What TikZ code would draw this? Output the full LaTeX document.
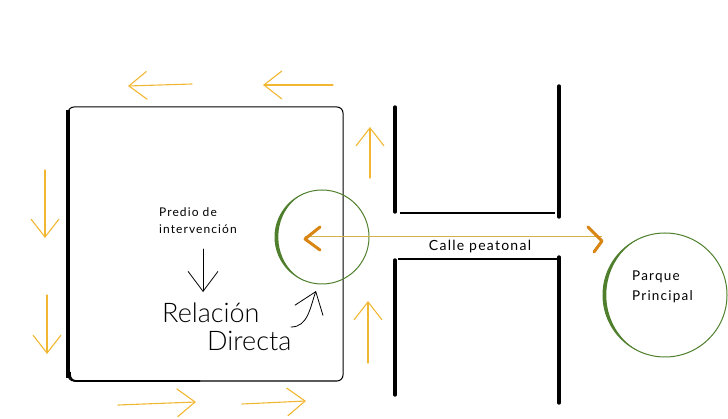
\documentclass[tikz,border=0pt]{standalone}
\usepackage{fontspec}
\setmainfont{Lato}
\newfontfamily\handfont[LetterSpace=9]{Lato}
\newfontfamily\bigfont{Lato Light}
\usetikzlibrary{arrows.meta}
\definecolor{amber}{HTML}{F2B732}
\definecolor{chev}{HTML}{D98514}
\definecolor{axisline}{HTML}{D6B04A}
\definecolor{leaf}{HTML}{4F7F2C}
\tikzset{
  flow/.style={draw=amber, line width=1.1pt, line cap=round, arrows={-Straight Barb[length=18pt, width=28pt]}},
  wallthick/.style={line width=3.4pt, line cap=round},
  wallthin/.style={line width=1.3pt},
  chevron/.style={draw=chev, line width=3pt, line cap=round, line join=round},
  hand/.style={font=\handfont\fontsize{12}{14}\selectfont, align=left, inner sep=0pt},
  bighand/.style={font=\bigfont\fontsize{27}{28}\selectfont, inner sep=0pt},
  pointer/.style={draw=black, line width=0.8pt, line cap=round, arrows={-Straight Barb[length=20pt, width=30pt]}}
}
\begin{document}
\begin{tikzpicture}[x=1pt,y=-1pt]
\useasboundingbox (0,0) rectangle (728,419);
% site block
\draw[line width=1pt, rounded corners=6pt] (68,107) rectangle (343,381);
\draw[line width=4pt] (68,110) -- (68,378);
\draw[line width=1.8pt, rounded corners=6pt] (70,372) -- (70,381) -- (200,381);
% H streets
\draw[wallthick] (395,107) -- (395,212);
\draw[wallthick] (395,260) -- (395,395);
\draw[wallthick] (559,86) -- (559,217);
\draw[wallthick] (559,257) -- (559,403);
\draw[wallthin] (400,213) -- (555,213);
\draw[wallthin] (398,259) -- (559,259);
% flow arrows
\draw[flow] (192,84) -- (128,86);
\draw[flow] (333,85) -- (263,85);
\draw[flow] (45,170) -- (45,238);
\draw[flow] (47,295) -- (47,354);
\draw[flow] (118,405) -- (196,402);
\draw[flow] (242,404) -- (306,401);
\draw[flow] (370,178) -- (370,127);
\draw[flow] (368,363) -- (368,301);
% circles
\node[circle, draw=leaf, line width=1pt, minimum size=94pt] (near) at (322,237) {};
\fill[leaf] (near.center) ++(110:47) arc[start angle=110,end angle=250,radius=47]
  arc[start angle=250,end angle=110,x radius=42,y radius=47] -- cycle;
\node[circle, draw=leaf, line width=1pt, minimum size=124pt] (park) at (665,295) {};
\fill[leaf] (park.center) ++(110:62) arc[start angle=110,end angle=250,radius=62]
  arc[start angle=250,end angle=110,x radius=57,y radius=62] -- cycle;
\node[hand, font=\handfont\fontsize{13.5}{20}\selectfont, anchor=west] (parktxt) at (632,287) {Parque\\Principal};
% axis line
\coordinate (la) at (305,237);
\coordinate (ra) at (602,237);
\draw[axisline, line width=1pt] (la) -- (ra);
\draw[chevron] (320,227) -- (305,239) -- (320,250);
\draw[chevron] (588,227) -- (602,241) -- (594,252);
\node[hand, font=\handfont\fontsize{14}{16}\selectfont] (calle) at (480,247) {Calle peatonal};
% texts
\node[hand, anchor=north west] (predio) at (159,207) {Predio de\\[3pt]intervención};
\node[bighand, anchor=west] (rel) at (162,313) {Relación};
\node[bighand, anchor=west] (dir) at (207,341) {Directa};
\draw[pointer] (203,249) -- (203,292);
\draw[pointer] (291,327) to[out=0,in=-110] (316,291);
\end{tikzpicture}
\end{document}
